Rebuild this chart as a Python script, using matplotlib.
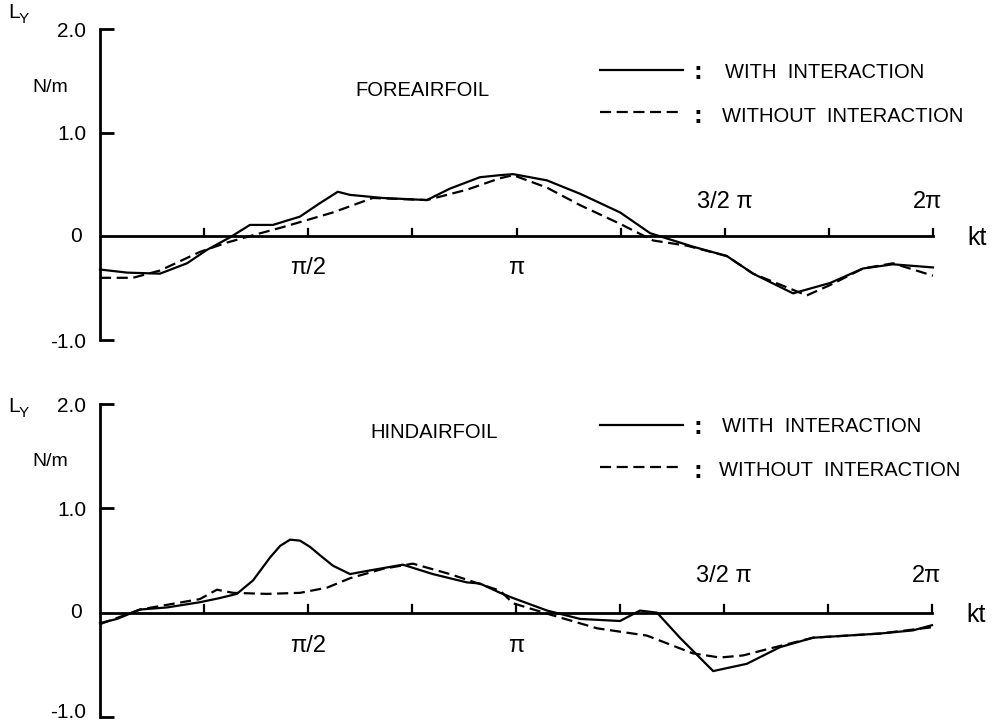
import numpy as np
import matplotlib
matplotlib.use("Agg")
import matplotlib.pyplot as plt
from matplotlib.transforms import ScaledTranslation

plt.rcParams['font.family'] = ['Liberation Sans', 'DejaVu Sans']

# data, kt given in units of pi
fore_with_kt = [0, 0.065, 0.144, 0.209, 0.257, 0.312, 0.360, 0.415, 0.480, 0.528, 0.571, 0.600,
                0.679, 0.785, 0.800, 0.840, 0.912, 0.960, 0.992, 1.073, 1.153, 1.249, 1.321,
                1.424, 1.505, 1.568, 1.664, 1.753, 1.832, 1.904, 2.0]
fore_with_ly = [-0.32, -0.35, -0.36, -0.26, -0.13, -0.01, 0.11, 0.11, 0.19, 0.32, 0.43, 0.40,
                0.37, 0.35, 0.38, 0.46, 0.57, 0.59, 0.60, 0.54, 0.41, 0.23, 0.03,
                -0.10, -0.19, -0.36, -0.55, -0.45, -0.31, -0.27, -0.30]

fore_wo_kt = [0, 0.079, 0.144, 0.240, 0.305, 0.367, 0.440, 0.559, 0.655, 0.785, 0.881, 0.960,
              0.992, 1.073, 1.153, 1.249, 1.328, 1.409, 1.505, 1.568, 1.697, 1.753, 1.832,
              1.904, 2.0]
fore_wo_ly = [-0.40, -0.40, -0.33, -0.15, -0.06, 0.01, 0.09, 0.23, 0.37, 0.35, 0.45, 0.56,
              0.59, 0.47, 0.30, 0.12, -0.04, -0.09, -0.19, -0.36, -0.57, -0.47, -0.31,
              -0.26, -0.38]

hind_with_kt = [0, 0.041, 0.096, 0.161, 0.240, 0.288, 0.329, 0.368, 0.409, 0.433, 0.457, 0.481,
                0.505, 0.529, 0.560, 0.601, 0.642, 0.728, 0.800, 0.882, 0.913, 0.962, 0.993,
                1.075, 1.154, 1.250, 1.298, 1.339, 1.394, 1.474, 1.555, 1.635, 1.714, 1.875,
                1.954, 2.0]
hind_with_ly = [-0.10, -0.06, 0.03, 0.05, 0.10, 0.14, 0.18, 0.31, 0.53, 0.64, 0.70, 0.69,
                0.63, 0.55, 0.45, 0.37, 0.40, 0.46, 0.37, 0.29, 0.28, 0.19, 0.14,
                0.02, -0.06, -0.08, 0.02, 0.0, -0.24, -0.56, -0.49, -0.33, -0.24, -0.20,
                -0.17, -0.12]

hind_wo_kt = [0, 0.096, 0.240, 0.281, 0.320, 0.401, 0.481, 0.546, 0.601, 0.680, 0.752, 0.841,
              0.962, 0.993, 1.075, 1.195, 1.315, 1.425, 1.490, 1.546, 1.594, 1.714, 1.875, 2.0]
hind_wo_ly = [-0.11, 0.03, 0.13, 0.22, 0.19, 0.18, 0.19, 0.24, 0.33, 0.42, 0.47, 0.37,
              0.21, 0.09, -0.01, -0.15, -0.22, -0.39, -0.43, -0.41, -0.36, -0.24, -0.20, -0.14]

yticks = [2.0, 1.0, -1.0]
ytick_labels = ["2.0", "1.0", "-1.0"]

fig = plt.figure(figsize=(10.05, 7.24), dpi=100)

W, H = 1005.0, 724.0


def ftext(x, y, s, **kw):
    # text placed in figure pixel coords (origin top-left)
    fig.text(x / W, 1 - y / H, s, **kw)


def make_panel(box, with_kt, with_ly, wo_kt, wo_ly, lab_pos):
    x0, ytop, x1, ybot = box
    ax = fig.add_axes([x0 / W, (H - ybot) / H, (x1 - x0) / W, (ybot - ytop) / H])
    ax.set_xlim(0, 2 * np.pi)
    ax.set_ylim(-1, 2)
    for s in ["top", "right", "bottom"]:
        ax.spines[s].set_visible(False)
    ax.spines["left"].set_linewidth(2.0)
    ax.set_xticks([])
    ax.set_yticks(yticks)
    ax.set_yticklabels(ytick_labels, fontsize=15)
    ax.tick_params(axis="y", direction="in", length=10, width=2.0, pad=10)
    ax.text(-0.022, 0, "0", transform=ax.get_yaxis_transform(), ha="right", va="center",
            fontsize=15)

    # horizontal kt axis
    ax.plot([0, 2 * np.pi], [0, 0], color="black", lw=2.0, clip_on=False)
    for k in range(1, 9):
        ax.plot([k * np.pi / 4, k * np.pi / 4], [0, 0.07], color="black", lw=1.6, clip_on=False)

    ax.plot(np.array(with_kt) * np.pi, with_ly, color="black", lw=1.6, clip_on=False)
    ax.plot(np.array(wo_kt) * np.pi, wo_ly, color="black", lw=1.6, dashes=(5, 2.5),
            clip_on=False)

    lo, hi = lab_pos
    ax.text(np.pi / 2, lo, "π/2", ha="center", va="center", fontsize=17)
    ax.text(np.pi, lo, "π", ha="center", va="center", fontsize=17)
    ax.text(1.5 * np.pi, hi, "3/2 π", ha="center", va="center", fontsize=17)
    ax.text(2 * np.pi - 0.04, hi, "2π", ha="center", va="center", fontsize=17)
    ax.text(2 * np.pi + 0.26, -0.02, "kt", ha="left", va="center", fontsize=18)
    return ax


top = make_panel((100, 29, 933, 340), fore_with_kt, fore_with_ly,
                 fore_wo_kt, fore_wo_ly, (-0.31, 0.33))
bot = make_panel((100, 404, 932, 717), hind_with_kt, hind_with_ly,
                 hind_wo_kt, hind_wo_ly, (-0.32, 0.35))

# lift the bottom -1.0 label a little so it stays inside the figure
lab = bot.get_yticklabels()[-1]
lab.set_transform(lab.get_transform() + ScaledTranslation(0, 6 / 100, fig.dpi_scale_trans))

for yl in [13, 407]:
    ftext(8, yl, "L", fontsize=15, ha="left", va="center")
    ftext(19, yl + 6, "Y", fontsize=11, ha="left", va="center")

ftext(32, 87, "N/m", fontsize=14, ha="left", va="center")
ftext(32, 461, "N/m", fontsize=14, ha="left", va="center")
ftext(355, 90, "FOREAIRFOIL", fontsize=14.5, ha="left", va="center")
ftext(370, 433, "HINDAIRFOIL", fontsize=14.5, ha="left", va="center")

for (ysol, ydash, xtxt) in [(70, 112, 725), (425, 467, 722)]:
    fig.add_artist(plt.Line2D([600 / W, 683 / W], [1 - ysol / H, 1 - ysol / H],
                              color="black", lw=1.6))
    fig.add_artist(plt.Line2D([600 / W, 683 / W], [1 - ydash / H, 1 - ydash / H],
                              color="black", lw=1.6, dashes=(5, 2.5)))
    ftext(698, ysol + 2, ":", fontsize=19, ha="center", va="center", fontweight="bold")
    ftext(698, ydash + 4, ":", fontsize=19, ha="center", va="center", fontweight="bold")
    ftext(xtxt, ysol + 2, "WITH  INTERACTION", fontsize=14.5, ha="left", va="center")
    ftext(xtxt - 3, ydash + 4, "WITHOUT  INTERACTION", fontsize=14.5, ha="left", va="center")

fig.savefig("out.png", dpi=100)
